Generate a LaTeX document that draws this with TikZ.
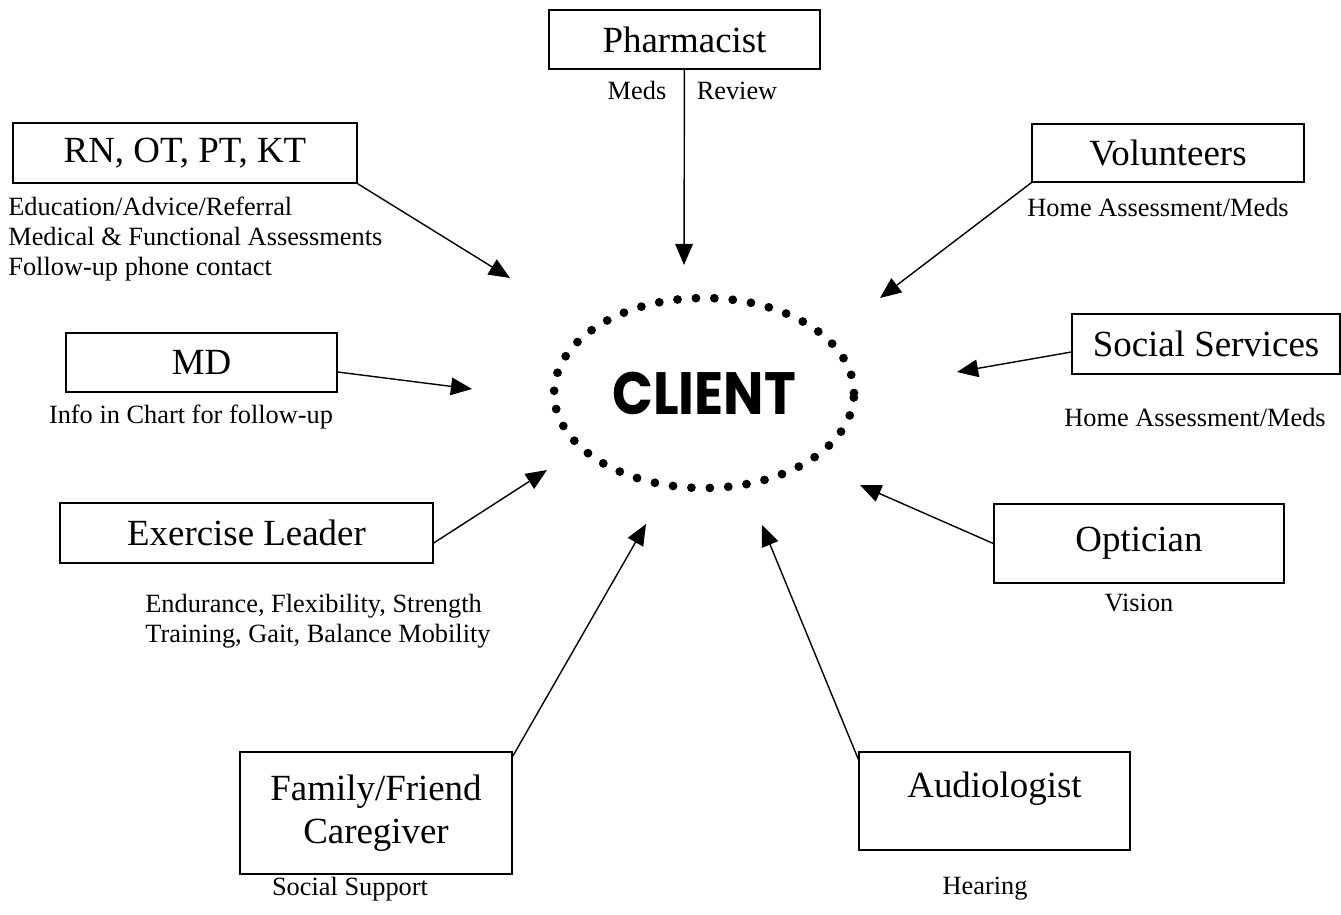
\documentclass[tikz,border=0pt]{standalone}
\usepackage{fontspec}
\setmainfont{Liberation Serif}
\newfontfamily\clientfont{Poppins}
\usepackage{tikz}
\usetikzlibrary{arrows.meta,shapes.geometric,calc}

\tikzset{
  agent/.style={draw,rectangle,line width=0.8pt,inner sep=0pt,align=center,
    font=\fontsize{21}{24.5}\selectfont},
  note/.style={inner sep=0pt,font=\fontsize{15}{17}\selectfont},
  feed/.style={-{Triangle[length=12pt,width=10pt]},line width=0.8pt},
  client/.style={ellipse,draw,line width=5pt,dash pattern=on 0pt off 10.5pt,
    line cap=round,minimum width=6.0cm,minimum height=3.8cm,inner sep=0pt,
    font=\clientfont\bfseries\fontsize{34}{34}\selectfont}
}

\begin{document}
\begin{tikzpicture}[x=0.02cm,y=-0.02cm]
\useasboundingbox (0,0) rectangle (1341,914);

\node[client] (client) at (704,393) {\scalebox{0.9}[1]{CLIENT}};

\node[agent,minimum width=5.42cm,minimum height=1.18cm] (pharm) at (684.5,39.5) {Pharmacist};
\node[agent,minimum width=6.88cm,minimum height=1.2cm] (rn) at (185,153) {RN, OT, PT, KT};
\node[agent,minimum width=5.44cm,minimum height=1.16cm] (vol) at (1168,153) {Volunteers};
\node[agent,minimum width=5.36cm,minimum height=1.2cm] (soc) at (1206,344) {Social Services};
\node[agent,minimum width=5.42cm,minimum height=1.18cm] (md) at (201.5,362.5) {MD};
\node[agent,minimum width=7.46cm,minimum height=1.2cm] (ex) at (246.5,533) {Exercise Leader};
\node[agent,minimum width=5.8cm,minimum height=1.58cm] (opt) at (1139,543.5) {Optician};
\node[agent,minimum width=5.44cm,minimum height=2.44cm] (fam) at (376,813) {Family/Friend\\Caregiver};
\node[agent,minimum width=5.42cm,minimum height=1.96cm,text height=15pt,text depth=19pt] (aud) at (994.5,801) {Audiologist};

\node[note,anchor=base] (meds) at (637,99) {Meds};
\node[note,anchor=base] (review) at (737,99) {Review};
\node[note,align=left,anchor=north west] (rnnote) at (8,197)
  {Education/Advice/Referral\\Medical \& Functional Assessments\\Follow-up phone contact};
\node[note] (volnote) at (1158,207) {Home Assessment/Meds};
\node[note] (socnote) at (1195,417) {Home Assessment/Meds};
\node[note] (mdnote) at (191,417) {Info in Chart for follow-up};
\node[note,align=left,anchor=north west] (exnote) at (145,594)
  {Endurance, Flexibility, Strength\\Training, Gait, Balance Mobility};
\node[note] (optnote) at (1139,603) {Vision};
\node[note] (famnote) at (350,889) {Social Support};
\node[note] (audnote) at (985,889) {Hearing};

\coordinate (tPh) at (684,265);
\coordinate (tRN) at (510,278);
\coordinate (tVol) at (880,298);
\coordinate (tSoc) at (957,372);
\coordinate (tMD) at (472,389);
\coordinate (tEx) at (547,470);
\coordinate (tOpt) at (860,485);
\coordinate (tFam) at (646,524);
\coordinate (tAud) at (762,525);

\draw[feed] (pharm) -- (tPh);
\draw[feed] (rn.south east) -- (tRN);
\draw[feed] (vol.south west) -- (tVol);
\draw[feed] ([yshift=-0.16cm]soc.west) -- (tSoc);
\draw[feed] ([yshift=-0.19cm]md.east) -- (tMD);
\draw[feed] ([yshift=-0.2cm]ex.east) -- (tEx);
\draw[feed] (opt.west) -- (tOpt);
\draw[feed] ([yshift=-0.1cm]fam.north east) -- (tFam);
\draw[feed] ([yshift=-0.16cm]aud.north west) -- (tAud);
\end{tikzpicture}
\end{document}
